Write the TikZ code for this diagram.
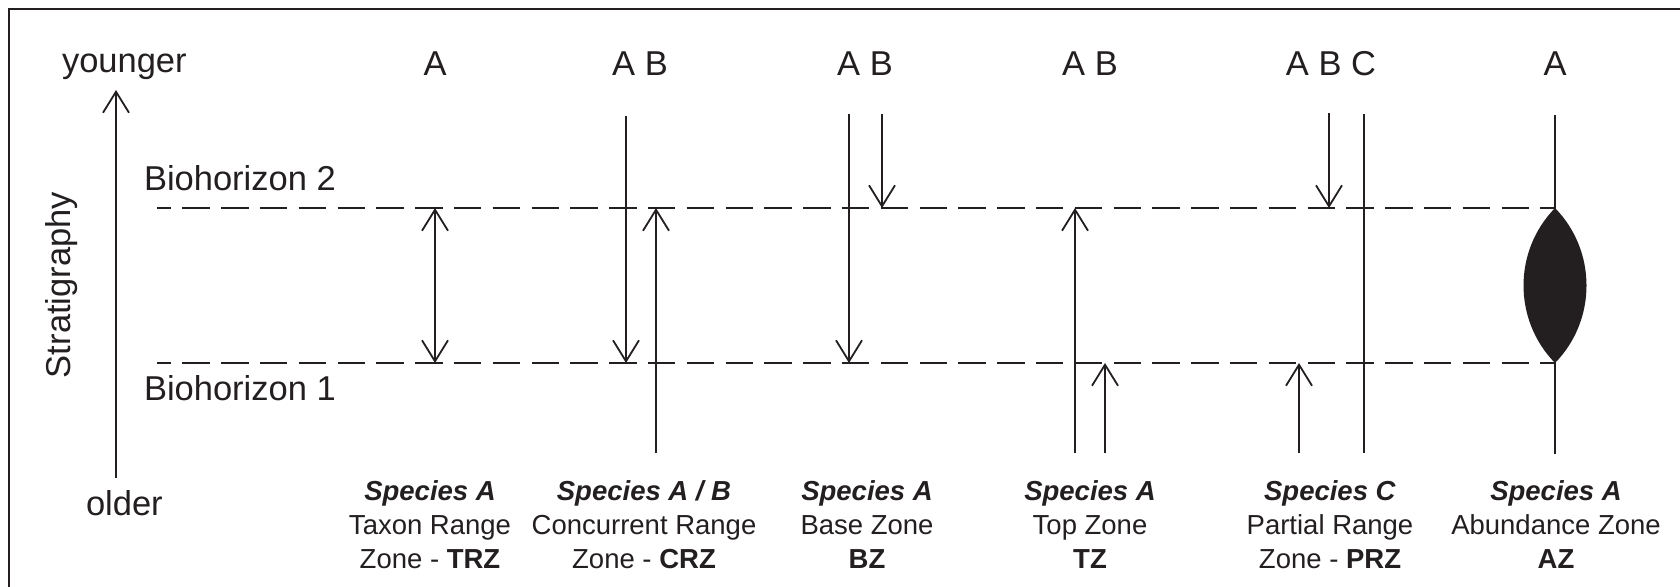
\documentclass[tikz,border=0pt]{standalone}
\usepackage{fontspec}
\setmainfont{Liberation Sans}
\usetikzlibrary{arrows.meta}
\definecolor{ink}{HTML}{231F20}
\tikzset{
  lbl/.style={inner sep=0pt, outer sep=0pt, text=ink, font=\fontsize{17.25}{20}\selectfont},
  zonecaption/.style={inner sep=0pt, outer sep=0pt, text=ink, align=center, font=\fontsize{13.75}{17}\selectfont},
  rangeline/.style={draw=ink, line width=0.9pt},
  tipped/.style={rangeline, -{Straight Barb[length=10.5pt, width=13pt, line width=0.9pt]}},
  bothtip/.style={rangeline, {Straight Barb[length=10.5pt, width=13pt, line width=0.9pt]}-{Straight Barb[length=10.5pt, width=13pt, line width=0.9pt]}},
  horizon/.style={draw=ink, line width=0.85pt, dash pattern=on 13.75pt off 5.65pt, dash phase=6.75pt},
}
\begin{document}
\begin{tikzpicture}[x=0.5pt, y=-0.5pt]
\useasboundingbox (0,0) rectangle (1680,586);
\fill[white] (0,0) rectangle (1680,586);

% frame (left and top edges)
\draw[draw=ink, line width=1.3pt] (9,590) -- (9,9) -- (1690,9);

% stratigraphic axis
\coordinate (axB) at (116,478);
\coordinate (axT) at (116,90);
\draw[tipped] (axB) -- (axT);
\node[lbl, anchor=base west] (young) at (62,72) {younger};
\node[lbl, anchor=base west] (old) at (86,515) {older};
\node[lbl, anchor=base, rotate=90] (strat) at (70,285) {Stratigraphy};

% biohorizons
\coordinate (h2L) at (157,208);
\coordinate (h2R) at (1555,208);
\coordinate (h1L) at (157,363);
\coordinate (h1R) at (1555,363);
\draw[horizon] (h2L) -- (h2R);
\draw[horizon] (h1L) -- (h1R);
\node[lbl, anchor=base west] (bh2) at (144,190) {Biohorizon 2};
\node[lbl, anchor=base west] (bh1) at (144,400) {Biohorizon 1};

% taxon range zone
\node[lbl, anchor=base] (tA) at (435,75) {A};
\coordinate (trzT) at (435,208);
\coordinate (trzB) at (435,363);
\draw[bothtip] (trzB) -- (trzT);

% concurrent range zone
\node[lbl, anchor=base] (cAB) at (640,75) {A B};
\coordinate (crzA0) at (626,116);
\coordinate (crzA1) at (626,363);
\coordinate (crzB0) at (656,453);
\coordinate (crzB1) at (656,208);
\draw[tipped] (crzA0) -- (crzA1);
\draw[tipped] (crzB0) -- (crzB1);

% base zone
\node[lbl, anchor=base] (bAB) at (865,75) {A B};
\coordinate (bzA0) at (849,114);
\coordinate (bzA1) at (849,363);
\coordinate (bzB0) at (882,114);
\coordinate (bzB1) at (882,208);
\draw[tipped] (bzA0) -- (bzA1);
\draw[tipped] (bzB0) -- (bzB1);

% top zone
\node[lbl, anchor=base] (zAB) at (1090,75) {A B};
\coordinate (tzA0) at (1075,453);
\coordinate (tzA1) at (1075,208);
\coordinate (tzB0) at (1105,453);
\coordinate (tzB1) at (1105,363);
\draw[tipped] (tzA0) -- (tzA1);
\draw[tipped] (tzB0) -- (tzB1);

% partial range zone
\node[lbl, anchor=base] (pABC) at (1331,75) {A B C};
\coordinate (przA0) at (1299,453);
\coordinate (przA1) at (1299,363);
\coordinate (przB0) at (1329,113);
\coordinate (przB1) at (1329,208);
\coordinate (przC0) at (1364,114);
\coordinate (przC1) at (1364,453);
\draw[tipped] (przA0) -- (przA1);
\draw[tipped] (przB0) -- (przB1);
\draw[rangeline] (przC0) -- (przC1);

% abundance zone
\node[lbl, anchor=base] (aA) at (1555,75) {A};
\coordinate (azT) at (1555,115);
\coordinate (azB) at (1555,454);
\draw[rangeline] (azT) -- (azB);
\fill[ink] (h2R) .. controls (1597,251) and (1597,320) .. (h1R)
                 .. controls (1513,320) and (1513,251) .. (h2R) -- cycle;

% zone captions (anchored on the baseline of their last line)
\node[zonecaption, anchor=base] (capTRZ) at (430,568) {\textbf{\textit{Species A}}\\Taxon Range\\Zone - \textbf{TRZ}};
\node[zonecaption, anchor=base] (capCRZ) at (644,568) {\textbf{\textit{Species A / B}}\\Concurrent Range\\Zone - \textbf{CRZ}};
\node[zonecaption, anchor=base] (capBZ) at (867,568) {\textbf{\textit{Species A}}\\Base Zone\\\textbf{BZ}};
\node[zonecaption, anchor=base] (capTZ) at (1090,568) {\textbf{\textit{Species A}}\\Top Zone\\\textbf{TZ}};
\node[zonecaption, anchor=base] (capPRZ) at (1330,568) {\textbf{\textit{Species C}}\\Partial Range\\Zone - \textbf{PRZ}};
\node[zonecaption, anchor=base] (capAZ) at (1556,568) {\textbf{\textit{Species A}}\\Abundance Zone\\\textbf{AZ}};
\end{tikzpicture}
\end{document}
